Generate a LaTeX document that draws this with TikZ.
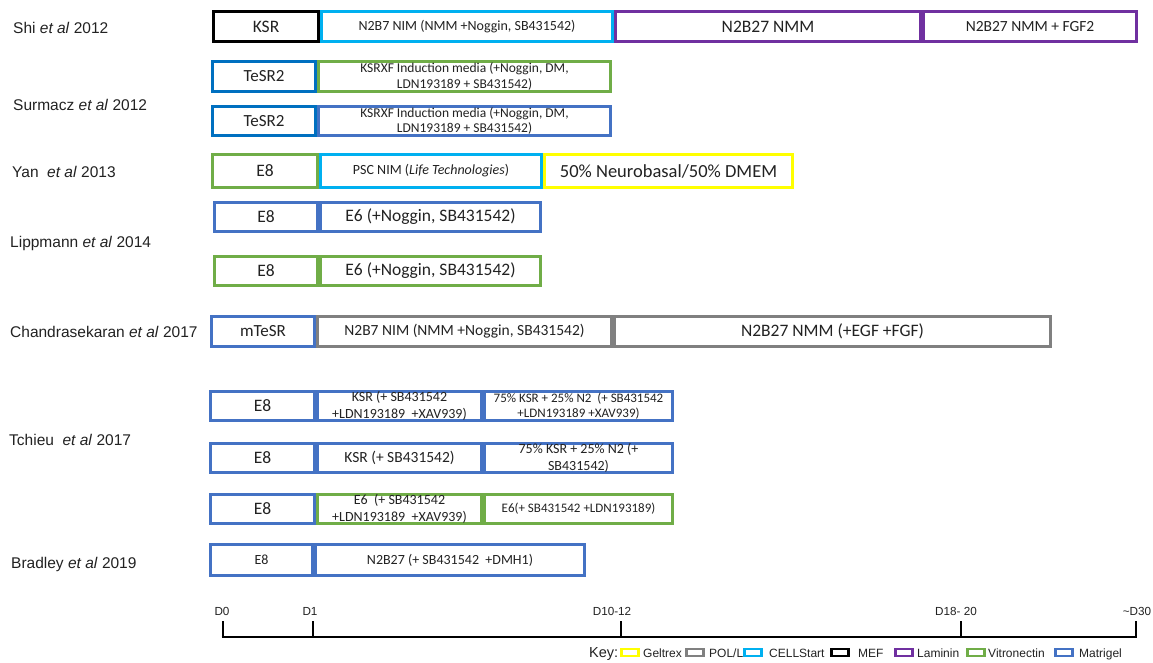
\documentclass[tikz,border=0pt]{standalone}
\usepackage{fontspec}
\setmainfont{Carlito}
\newfontfamily\arial{Liberation Sans}
\definecolor{ccyan}{HTML}{00B0F0}
\definecolor{cpurple}{HTML}{7030A0}
\definecolor{cgreen}{HTML}{70AD47}
\definecolor{cblue}{HTML}{4472C4}
\definecolor{cdblue}{HTML}{0070C0}
\definecolor{cyellow}{HTML}{FFFF00}
\definecolor{cgray}{HTML}{808080}
\definecolor{ctext}{HTML}{222222}
\tikzset{
  bx/.style={line width=2.6pt, inner sep=0pt, align=center, text=ctext},
  study/.style={anchor=base west, inner sep=0pt, text=ctext, font=\arial\fontsize{15.5}{18}\selectfont},
  daylbl/.style={anchor=base, inner sep=0pt, text=ctext, font=\arial\fontsize{11.7}{14}\selectfont},
  keybox/.style={draw=#1, line width=2.2pt, minimum width=17pt, minimum height=7pt, inner sep=0pt},
  keylbl/.style={anchor=base west, inner sep=0pt, text=ctext, font=\arial\fontsize{12}{14}\selectfont},
  axisline/.style={line width=2.8pt, black}
}
% #1 name, #2 x1, #3 x2, #4 y1, #5 y2 (outer edges), #6 colour, #7 font size, #8 text
\newcommand\bx[8]{%
  \pgfmathsetmacro\bxw{#3-#2-2.6}%
  \pgfmathsetmacro\bxh{#5-#4-2.6}%
  \pgfmathsetmacro\bxcx{(#2+#3)/2}%
  \pgfmathsetmacro\bxcy{(#4+#5)/2}%
  \pgfmathsetmacro\bxls{#7*1.18}%
  \node[bx, draw=#6, minimum width=\bxw pt, minimum height=\bxh pt,
        font={\fontsize{#7}{\bxls}\selectfont}] (#1) at (\bxcx,\bxcy) {#8};}
\begin{document}
\begin{tikzpicture}[x=1pt,y=-1pt]
\useasboundingbox (0,0) rectangle (1153,662);
\fill[white] (0,0) rectangle (1153,662);

% study labels
\node[study] (lshi) at (13,33) {Shi \textit{et al} 2012};
\node[study] (lsur) at (13,110) {Surmacz \textit{et al} 2012};
\node[study] (lyan) at (12,177) {Yan \ \textit{et al} 2013};
\node[study] (llip) at (10,247) {Lippmann \textit{et al} 2014};
\node[study] (lcha) at (10,337) {Chandrasekaran \textit{et al} 2017};
\node[study] (ltch) at (9,445) {Tchieu \ \textit{et al} 2017};
\node[study] (lbra) at (11,568) {Bradley \textit{et al} 2019};

% Shi
\bx{s1}{212}{320}{10}{43}{black}{17.5}{KSR}
\bx{s2}{320}{614}{10}{43}{ccyan}{14}{N2B7 NIM (NMM +Noggin, SB431542)}
\bx{s3}{614}{922}{10}{43}{cpurple}{17.5}{N2B27 NMM}
\bx{s4}{922}{1138}{10}{43}{cpurple}{15.5}{N2B27 NMM + FGF2}
% Surmacz
\bx{ua1}{211}{317}{60}{93}{cdblue}{17}{TeSR2}
\bx{ua2}{317}{612}{60}{93}{cgreen}{13.5}{KSRXF Induction media (+Noggin, DM,\\ LDN193189 + SB431542)}
\bx{ub1}{211}{317}{105}{137}{cdblue}{17}{TeSR2}
\bx{ub2}{317}{612}{105}{137}{cblue}{13.5}{KSRXF Induction media (+Noggin, DM,\\ LDN193189 + SB431542)}
% Yan
\bx{y1}{211}{319}{153}{189}{cgreen}{17.5}{E8}
\bx{y2}{319}{543}{153}{189}{ccyan}{14}{PSC NIM (\textit{Life Technologies})}
\bx{y3}{543}{794}{153}{189}{cyellow}{18.5}{50\% Neurobasal/50\% DMEM}
% Lippmann
\bx{la1}{213}{319}{201}{233}{cblue}{17.5}{E8}
\bx{la2}{319}{542}{201}{233}{cblue}{17.5}{E6 (+Noggin, SB431542)}
\bx{lb1}{213}{319}{255}{287}{cgreen}{17.5}{E8}
\bx{lb2}{319}{542}{255}{287}{cgreen}{17.5}{E6 (+Noggin, SB431542)}
% Chandrasekaran
\bx{c1}{210}{316}{315}{348}{cblue}{17}{mTeSR}
\bx{c2}{316}{613}{315}{348}{cgray}{15.5}{N2B7 NIM (NMM +Noggin, SB431542)}
\bx{c3}{613}{1052}{315}{348}{cgray}{17.5}{N2B27 NMM (+EGF +FGF)}
% Tchieu
\bx{ta1}{209}{316}{390}{422}{cblue}{17.5}{E8}
\bx{ta2}{316}{483}{390}{422}{cblue}{14}{KSR (+ SB431542\\ +LDN193189 \ +XAV939)}
\bx{ta3}{483}{674}{390}{422}{cblue}{13}{75\% KSR + 25\% N2 \ (+ SB431542\\ +LDN193189 +XAV939)}
\bx{tb1}{209}{316}{442}{474}{cblue}{17.5}{E8}
\bx{tb2}{316}{483}{442}{474}{cblue}{15.5}{KSR (+ SB431542)}
\bx{tb3}{483}{674}{442}{474}{cblue}{14}{75\% KSR + 25\% N2 (+\\ SB431542)}
\bx{tc1}{209}{316}{493}{525}{cblue}{17.5}{E8}
\bx{tc2}{316}{483}{493}{525}{cgreen}{14}{E6 \ (+ SB431542\\ +LDN193189 \ +XAV939)}
\bx{tc3}{483}{674}{493}{525}{cgreen}{13}{E6(+ SB431542 +LDN193189)}
% Bradley
\bx{b1}{209}{314}{543}{577}{cblue}{14}{E8}
\bx{b2}{314}{586}{543}{577}{cblue}{14}{N2B27 (+ SB431542 \ +DMH1)}

% time axis
\coordinate (a0) at (223,637);
\coordinate (a1) at (313,637);
\coordinate (a10) at (621,637);
\coordinate (a18) at (961,637);
\coordinate (a30) at (1136,637);
\coordinate (t0) at (223,621);
\coordinate (t1) at (313,621);
\coordinate (t10) at (621,621);
\coordinate (t18) at (961,621);
\coordinate (t30) at (1136,621);
\draw[axisline] ([xshift=-1.4pt]a0) -- ([xshift=1.4pt]a30);
\draw[axisline] (t0) -- (a0);
\draw[axisline] (t1) -- (a1);
\draw[axisline] (t10) -- (a10);
\draw[axisline] (t18) -- (a18);
\draw[axisline] (t30) -- (a30);
\node[daylbl] (d0) at (222,615) {D0};
\node[daylbl] (d1) at (310,615) {D1};
\node[daylbl] (d10) at (612,615) {D10-12};
\node[daylbl] (d18) at (956,615) {D18- 20};
\node[daylbl] (d30) at (1137,615) {\textasciitilde D30};

% key
\node[keylbl, font=\arial\fontsize{14.5}{16}\selectfont] (key) at (589,657) {Key:};
\node[keybox=cyellow] (k1) at (630,652.5) {};
\node[keylbl] (k1t) at (643,657) {Geltrex};
\node[keybox=cgray] (k2) at (695,652.5) {};
\node[keylbl] (k2t) at (709,657) {POL/L};
\node[keybox=ccyan] (k3) at (753,652.5) {};
\node[keylbl] (k3t) at (769,657) {CELLStart};
\node[keybox=black] (k4) at (840,652.5) {};
\node[keylbl] (k4t) at (858,657) {MEF};
\node[keybox=cpurple] (k5) at (904,652.5) {};
\node[keylbl] (k5t) at (917,657) {Laminin};
\node[keybox=cgreen] (k6) at (976,652.5) {};
\node[keylbl] (k6t) at (988,657) {Vitronectin};
\node[keybox=cblue] (k7) at (1064,652.5) {};
\node[keylbl] (k7t) at (1079,657) {Matrigel};
\end{tikzpicture}
\end{document}
